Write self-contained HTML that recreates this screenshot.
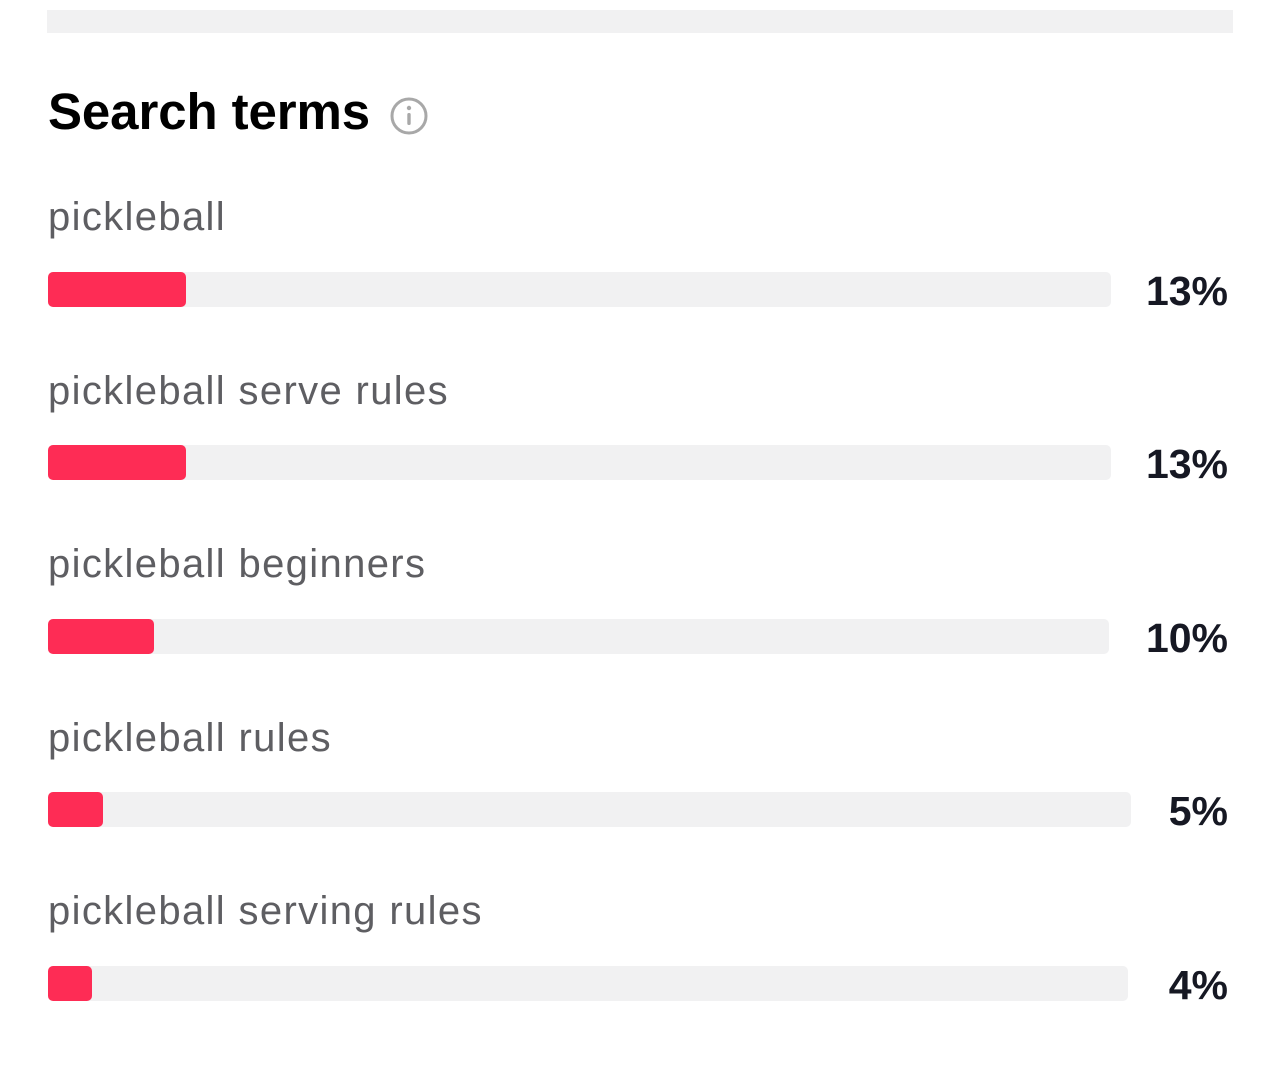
<!DOCTYPE html>
<html><head><meta charset="utf-8"><style>
body{margin:0;width:1280px;height:1068px;background:#fff;position:relative;overflow:hidden;font-family:"Liberation Sans",sans-serif}
.a{position:absolute;line-height:1;white-space:nowrap}
.t{font-size:51px;font-weight:bold;color:#000;left:48px;top:86px;letter-spacing:-0.1px}
.l{font-size:40px;color:#5e5e62;left:48px;letter-spacing:1.35px}
.p{font-size:41px;font-weight:bold;color:#161823;right:52px}
.tr{position:absolute;left:48px;height:35px;background:#f1f1f2;border-radius:5px}
.f{position:absolute;left:0;top:0;height:35px;background:#fe2c55;border-radius:5px}
</style></head><body>
<div style="position:absolute;left:47px;top:10px;width:1186px;height:23px;background:#f1f1f2"></div>
<div class="a t">Search terms</div>
<svg style="position:absolute;left:389px;top:97px" width="40" height="40"><circle cx="20" cy="19" r="17" fill="none" stroke="#a8a8a8" stroke-width="3"/><circle cx="20" cy="11" r="2.2" fill="#a8a8a8"/><rect x="18.3" y="16" width="3.4" height="12" rx="1.5" fill="#a8a8a8"/></svg>

<div class="a l" style="top:197px">pickleball</div>
<div class="tr" style="top:272px;width:1063px"><div class="f" style="width:138px"></div></div>
<div class="a p" style="top:271px">13%</div>

<div class="a l" style="top:371px">pickleball serve rules</div>
<div class="tr" style="top:445px;width:1063px"><div class="f" style="width:138px"></div></div>
<div class="a p" style="top:444px">13%</div>

<div class="a l" style="top:544px">pickleball beginners</div>
<div class="tr" style="top:619px;width:1061px"><div class="f" style="width:106px"></div></div>
<div class="a p" style="top:618px">10%</div>

<div class="a l" style="top:718px">pickleball rules</div>
<div class="tr" style="top:792px;width:1083px"><div class="f" style="width:55px"></div></div>
<div class="a p" style="top:791px">5%</div>

<div class="a l" style="top:891px">pickleball serving rules</div>
<div class="tr" style="top:966px;width:1080px"><div class="f" style="width:44px"></div></div>
<div class="a p" style="top:965px">4%</div>
</body></html>
